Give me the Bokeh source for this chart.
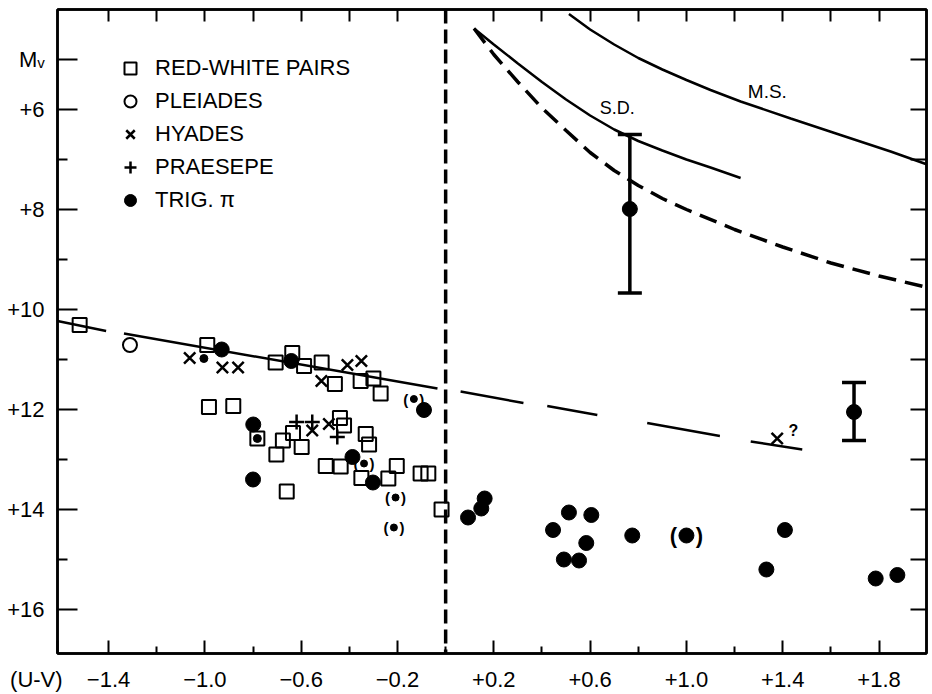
from bokeh.plotting import figure
from bokeh.models import (Range1d, LinearAxis, FixedTicker, Span, Label, Legend,
                          LegendItem, Whisker, ColumnDataSource, TeeHead)
from bokeh.core.properties import value
from bokeh.embed import file_html
from bokeh.resources import INLINE

FONT = "Liberation Sans"

# ---------------- data ----------------
# red-white pairs (open squares)
rw_uv = [-1.52, -0.99, -0.983, -0.882, -0.782, -0.706, -0.637, -0.588, -0.515, -0.460,
         -0.353, -0.300, -0.270, -0.703, -0.676, -0.634, -0.598, -0.439, -0.422, -0.332,
         -0.318, -0.498, -0.436, -0.350, -0.238, -0.203, -0.104, -0.072, -0.660, -0.017]
rw_mv = [10.31, 10.71, 11.95, 11.93, 12.58, 11.06, 10.87, 11.13, 11.06, 11.49,
         11.43, 11.38, 11.68, 12.90, 12.62, 12.47, 12.75, 12.17, 12.32, 12.49,
         12.70, 13.13, 13.14, 13.37, 13.38, 13.13, 13.28, 13.28, 13.64, 14.00]

# Pleiades (open circle)
pl_uv = [-1.311]
pl_mv = [10.71]

# Hyades (x)
hy_uv = [-1.063, -0.927, -0.862, -0.408, -0.350, -0.516, -0.554, -0.485]
hy_mv = [10.97, 11.16, 11.16, 11.11, 11.03, 11.43, 12.42, 12.29]
hyq_uv = [1.377]
hyq_mv = [12.58]

# Praesepe (+)
pr_uv = [-0.619, -0.554, -0.450]
pr_mv = [12.25, 12.25, 12.55]

# trigonometric parallax (filled circles)
tr_uv = [-0.930, -0.641, -0.799, -0.800, -0.387, -0.302, -0.090, 0.093, 0.148, 0.162,
         0.446, 0.512, 0.605, 0.584, 0.491, 0.554, 0.775, 1.409, 1.332, 1.786, 1.876,
         0.765, 1.696]
tr_mv = [10.80, 11.03, 12.30, 13.40, 12.95, 13.46, 12.01, 14.16, 13.98, 13.78,
         14.41, 14.06, 14.11, 14.67, 15.00, 15.02, 14.52, 14.41, 15.20, 15.38, 15.31,
         7.99, 12.05]
# small trig dots, some in parentheses
sm_uv = [-1.004, -0.782]
sm_mv = [10.98, 12.58]
smp_uv = [-0.132, -0.339, -0.208, -0.215]
smp_mv = [11.79, 13.08, 13.76, 14.36]
bgp_uv = [1.000]
bgp_mv = [14.52]

# error bars
err_uv = [0.765, 1.696]
err_lo = [9.67, 12.62]
err_hi = [6.50, 11.46]

# white-dwarf relation (solid part and long-dash part)
rel_s_x0 = [-1.612, -1.336]
rel_s_x1 = [-1.41, -0.034]
rel_s_y0 = [10.23, 10.48]
rel_s_y1 = [10.43, 11.58]
rel_d_x0 = [0.062, 0.422, 0.837, 1.267]
rel_d_x1 = [0.323, 0.630, 1.139, 1.481]
rel_d_y0 = [11.64, 11.93, 12.27, 12.64]
rel_d_y1 = [11.87, 12.11, 12.53, 12.80]

# main sequence
ms_uv = [0.512, 0.60, 0.70, 0.80, 0.90, 1.00, 1.10, 1.225, 1.433, 1.64, 1.848, 2.0]
ms_mv = [4.09, 4.40, 4.70, 4.97, 5.20, 5.41, 5.61, 5.84, 6.18, 6.51, 6.84, 7.10]
# subdwarfs
sd_uv = [0.118, 0.20, 0.30, 0.40, 0.50, 0.60, 0.70, 0.80, 0.90, 1.00, 1.10, 1.225]
sd_mv = [4.38, 4.70, 5.08, 5.45, 5.80, 6.12, 6.40, 6.63, 6.82, 7.00, 7.16, 7.37]
# dashed curve
dc_uv = [0.118, 0.20, 0.30, 0.40, 0.50, 0.60, 0.70, 0.80, 0.90, 1.00, 1.20, 1.40, 1.60, 1.80, 1.993]
dc_mv = [4.38, 4.90, 5.45, 5.97, 6.42, 6.86, 7.22, 7.52, 7.78, 8.00, 8.40, 8.75, 9.07, 9.33, 9.55]

# ticks
x_major = [-1.611, -1.4, -1.0, -0.6, -0.2, 0.2, 0.6, 1.0, 1.4, 1.8]
x_major_labels = ["(U-V)" + "\u00a0" * 7, "\u22121.4", "\u22121.0", "\u22120.6", "\u22120.2",
                  "+0.2", "+0.6", "+1.0", "+1.4", "+1.8"]
x_minor = [-1.2, -0.8, -0.4, 0.0, 0.4, 0.8, 1.2, 1.6]
x_top = [-1.4, -1.2, -1.0, -0.8, -0.6, -0.4, -0.2, 0.0, 0.2, 0.4, 0.6, 0.8, 1.0, 1.2, 1.4, 1.6, 1.8]
y_major = [5, 6, 8, 10, 12, 14, 16]
y_major_labels = ["M\u1d65", "+6", "+8", "+10", "+12", "+14", "+16"]
y_minor = [7, 9, 11, 13, 15]
y_right = [5, 6, 7, 8, 9, 10, 11, 12, 13, 14, 15, 16]

legend_labels = ["RED-WHITE PAIRS", "PLEIADES", "HYADES", "PRAESEPE", "TRIG. \u03c0"]

# ---------------- figure ----------------
p = figure(width=932, height=694, output_backend="svg", toolbar_location=None,
           x_range=Range1d(-1.612, 1.997), y_range=Range1d(16.88, 4.0),
           x_axis_location=None, y_axis_location=None,
           min_border_left=57, min_border_right=6, min_border_top=9, min_border_bottom=38)
p.grid.visible = False
p.outline_line_color = "black"
p.outline_line_width = 2.5
p.background_fill_color = "white"
p.border_fill_color = "white"

def style_axis(ax, tin, minin, label_size=None, standoff=0):
    ax.axis_line_width = 2.5
    ax.axis_line_color = "black"
    ax.major_tick_in = tin
    ax.major_tick_out = 0
    ax.minor_tick_in = minin
    ax.minor_tick_out = 0
    ax.major_tick_line_width = 2
    ax.minor_tick_line_width = 2
    ax.major_label_standoff = standoff
    if label_size is None:
        ax.major_label_text_font_size = "0px"
        ax.major_label_text_color = None
        ax.major_label_text_alpha = 0
    else:
        ax.major_label_text_font = FONT
        ax.major_label_text_font_size = label_size
        ax.major_label_text_color = "black"

xb = LinearAxis(ticker=FixedTicker(ticks=x_major, minor_ticks=x_minor),
                major_label_overrides=dict(zip(x_major, x_major_labels)))
style_axis(xb, 13, 7, "22px", 13)
p.add_layout(xb, "below")

xt = LinearAxis(ticker=FixedTicker(ticks=x_top, minor_ticks=[]))
style_axis(xt, 12, 0)
p.add_layout(xt, "above")

yl = LinearAxis(ticker=FixedTicker(ticks=y_major, minor_ticks=y_minor),
                major_label_overrides=dict(zip(y_major, y_major_labels)))
style_axis(yl, 20, 10, "22px", 13)
p.add_layout(yl, "left")

yr = LinearAxis(ticker=FixedTicker(ticks=y_right, minor_ticks=[]))
style_axis(yr, 16, 0)
p.add_layout(yr, "right")

# vertical dashed line at U-V = 0
p.add_layout(Span(location=0, dimension="height", line_color="black",
                  line_width=3.5, line_dash="14 6"))

# relation lines
p.segment(rel_s_x0, rel_s_y0, rel_s_x1, rel_s_y1, line_color="black", line_width=2.5)
p.segment(rel_d_x0, rel_d_y0, rel_d_x1, rel_d_y1, line_color="black", line_width=2.5)
p.line(ms_uv, ms_mv, line_color="black", line_width=2.5)
p.line(sd_uv, sd_mv, line_color="black", line_width=2.5)
p.line(dc_uv, dc_mv, line_color="black", line_width=3.5, line_dash="18 9")

# error bars
esrc = ColumnDataSource(dict(x=err_uv, lower=err_lo, upper=err_hi))
p.add_layout(Whisker(source=esrc, base="x", lower="lower", upper="upper", dimension="height",
                     line_width=3.5, line_color="black",
                     upper_head=TeeHead(size=24, line_width=3.5, line_color="black"),
                     lower_head=TeeHead(size=24, line_width=3.5, line_color="black")))

# parentheses
for xs, ys, off, fs in [(smp_uv, smp_mv, 8, "15px"), (bgp_uv, bgp_mv, 13, "22px")]:
    p.text(xs, ys, text=value("("), x_offset=-off, text_align="center", text_baseline="middle",
           text_font=value(FONT), text_font_size=fs, text_font_style="bold", text_color="black")
    p.text(xs, ys, text=value(")"), x_offset=off, text_align="center", text_baseline="middle",
           text_font=value(FONT), text_font_size=fs, text_font_style="bold", text_color="black")

r_sq = p.scatter(rw_uv, rw_mv, marker="square", size=14, fill_alpha=0,
                 line_color="black", line_width=2)
r_pl = p.scatter(pl_uv, pl_mv, marker="circle", size=14, fill_alpha=0,
                 line_color="black", line_width=2)
r_hy = p.scatter(hy_uv, hy_mv, marker="x", size=16, line_color="black", line_width=2.5)
p.scatter(hyq_uv, hyq_mv, marker="x", size=16, line_color="black", line_width=2.5)
r_pr = p.scatter(pr_uv, pr_mv, marker="cross", size=15, line_color="black", line_width=2.5)
r_tr = p.scatter(tr_uv, tr_mv, marker="circle", size=15, fill_color="black", line_color="black")
p.scatter(sm_uv, sm_mv, marker="circle", size=8, fill_color="black", line_color="black")
p.scatter(smp_uv, smp_mv, marker="circle", size=7, fill_color="black", line_color="black")
p.scatter(bgp_uv, bgp_mv, marker="circle", size=15, fill_color="black", line_color="black")

# annotations
p.add_layout(Label(x=1.444, y=12.42, text="?", text_font=FONT, text_font_size="16px",
                   text_font_style="bold", text_align="center", text_baseline="middle",
                   text_color="black"))
p.add_layout(Label(x=0.713, y=5.96, text="S.D.", text_font=FONT, text_font_size="18px",
                   text_align="center", text_baseline="middle", text_color="black"))
p.add_layout(Label(x=1.336, y=5.64, text="M.S.", text_font=FONT, text_font_size="19px",
                   text_align="center", text_baseline="middle", text_color="black"))

legend = Legend(items=[LegendItem(label=l, renderers=[r]) for l, r in
                       zip(legend_labels, [r_sq, r_pl, r_hy, r_pr, r_tr])],
                location=(58, 438), glyph_width=30, glyph_height=30, label_height=30,
                label_standoff=10, spacing=3, padding=0, margin=0,
                border_line_alpha=0, background_fill_alpha=0,
                label_text_font=FONT, label_text_font_size="22px", label_text_color="black")
p.add_layout(legend)

open("out.html", "w").write(file_html(p, INLINE))
